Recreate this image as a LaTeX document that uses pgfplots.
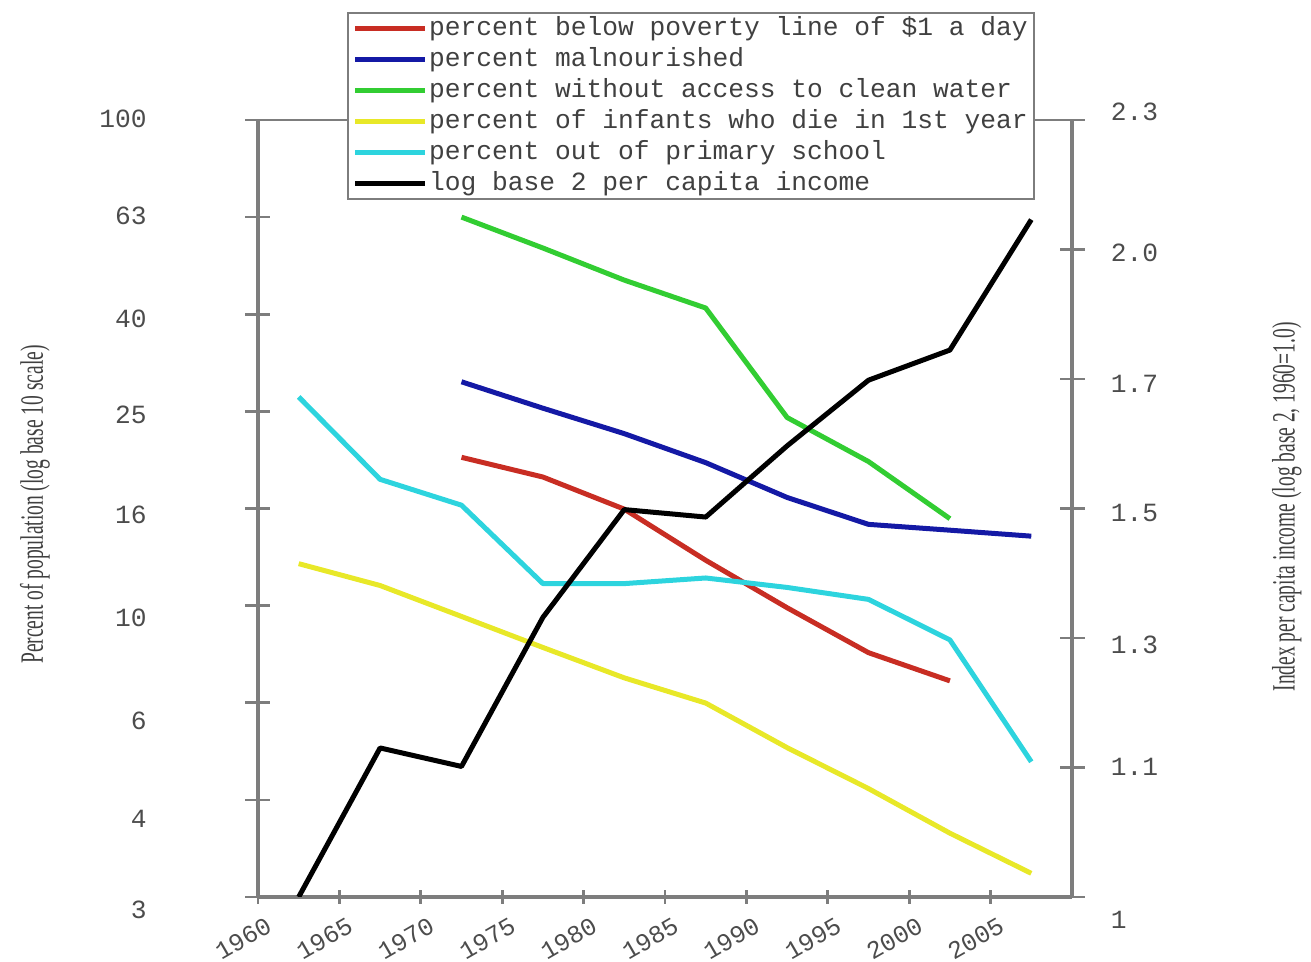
\documentclass[border=0pt]{standalone}
\usepackage{fontspec}
\setmainfont{Liberation Serif}
\newfontfamily\monofont{Liberation Mono}
\usepackage{graphicx}
\usepackage{pgfplots}
\pgfplotsset{compat=1.18}

\definecolor{cRed}{RGB}{200,45,35}
\definecolor{cBlue}{RGB}{20,25,165}
\definecolor{cGreen}{RGB}{50,205,50}
\definecolor{cYellow}{RGB}{232,232,40}
\definecolor{cCyan}{RGB}{45,212,222}
\definecolor{axgray}{RGB}{125,125,125}

% tick label lowered by #1 (the reference labels drift off their ticks)
\newcommand\lab[2]{\raisebox{\dimexpr-#1-3.15pt\relax}[0pt][0pt]{#2}}

\pgfplotsset{
  common/.style={
    scale only axis, width=325.6pt, height=310.8pt,
    xmin=1960, xmax=2010,
    axis line style={axgray, line width=1.6pt, -},
    tick style={axgray, line width=1.1pt},
    tick align=center,
    major tick length=10pt,
    minor ytick={},
    tick label style={font=\monofont\fontsize{10.5}{12}\selectfont, text=black!70},
    label style={font=\fontsize{13}{15}\selectfont, text=black!75},
  },
}

\begin{document}
\begin{tikzpicture}
\begin{axis}[common,
    axis y line*=left, axis x line*=bottom,
    ymode=log, ymin=2.5119, ymax=100,
    ytick={2.5119,3.9811,6.3096,10,15.849,25.119,39.811,63.096,100},
    yticklabels={\lab{5.6pt}{3},\lab{8pt}{4},\lab{7.6pt}{6},\lab{5.2pt}{10},
                 \lab{2.8pt}{16},\lab{1.6pt}{25},\lab{2pt}{40},\lab{0pt}{63},\lab{0pt}{100}},
    yticklabel style={anchor=east, xshift=-36pt},
    xtick=\empty,
    extra x ticks={1960,1965,1970,1975,1980,1985,1990,1995,2000,2005},
    extra x tick labels={1960,1965,1970,1975,1980,1985,1990,1995,2000,2005},
    extra tick style={major tick length=5.6pt},
    xticklabel style={rotate=30, anchor=east, font=\monofont\fontsize{10}{11}\selectfont,
                      xshift=3.5pt, yshift=-9pt},
    ylabel={\scalebox{0.6}[1]{Percent of population (log base 10 scale)}},
    ylabel style={at={(axis description cs:-0.274,0.505)}, anchor=center},
]
\coordinate (sw) at (rel axis cs:0,0);
\draw[axgray, line width=0.6pt] (rel axis cs:0,1) -- (rel axis cs:1,1);

% percent below poverty line of $1 a day
\addplot[cRed, line width=2pt, line join=round] coordinates {
  (1972.5,20.2) (1977.5,18.4) (1982.5,15.8) (1987.5,12.4)
  (1992.5,9.9) (1997.5,8.0) (2002.5,7.0)
};
% percent malnourished
\addplot[cBlue, line width=2pt, line join=round] coordinates {
  (1972.5,28.9) (1977.5,25.5) (1982.5,22.6) (1987.5,19.7)
  (1992.5,16.7) (1997.5,14.7) (2002.5,14.3) (2007.5,13.9)
};
% percent without access to clean water
\addplot[cGreen, line width=2pt, line join=round] coordinates {
  (1972.5,63.1) (1977.5,54.5) (1982.5,46.8) (1987.5,41.0)
  (1992.5,24.4) (1997.5,19.8) (2002.5,15.1)
};
% percent of infants who die in 1st year
\addplot[cYellow, line width=2pt, line join=round] coordinates {
  (1962.5,12.2) (1967.5,11.0) (1972.5,9.5) (1977.5,8.2) (1982.5,7.1)
  (1987.5,6.3) (1992.5,5.1) (1997.5,4.2) (2002.5,3.4) (2007.5,2.81)
};
% percent out of primary school
\addplot[cCyan, line width=2pt, line join=round] coordinates {
  (1962.5,26.9) (1967.5,18.2) (1972.5,16.1) (1977.5,11.1) (1982.5,11.1)
  (1987.5,11.4) (1992.5,10.9) (1997.5,10.3) (2002.5,8.5) (2007.5,4.77)
};
\end{axis}

\begin{axis}[common,
    axis y line*=right, axis x line=none,
    ymode=log, log basis y=2, ymin=1, ymax=2.2974,
    ytick={1,1.1487,1.3195,1.5157,1.7411,2,2.2974},
    yticklabels={\lab{9.6pt}{1},\lab{0pt}{1.1},\lab{3.2pt}{1.3},\lab{2pt}{1.5},
                 \lab{2.4pt}{1.7},\lab{1.6pt}{2.0},\lab{-2.8pt}{2.3}},
    yticklabel style={anchor=west, xshift=7pt},
    ylabel={\scalebox{0.6}[1]{Index per capita income (log base 2, 1960=1.0)}},
    ylabel style={at={(axis description cs:1.264,0.502)}, anchor=center, rotate=0},
    legend image code/.code={\draw[#1, line width=2pt] (0pt,0pt) -- (28pt,0pt);},
    legend cell align=left,
    legend style={at={(0.109,1.139)}, anchor=north west,
      draw=axgray, line width=0.9pt, fill=white,
      font=\monofont\fontsize{10.5}{12}\selectfont, text=black!75,
      inner xsep=2pt, inner ysep=0.5pt, row sep=0.9pt,
      nodes={inner sep=0.5pt, text height=8pt, text depth=2.5pt}},
]
\addlegendimage{cRed}
\addlegendentry{percent below poverty line of \$1 a day}
\addlegendimage{cBlue}
\addlegendentry{percent malnourished}
\addlegendimage{cGreen}
\addlegendentry{percent without access to clean water}
\addlegendimage{cYellow}
\addlegendentry{percent of infants who die in 1st year}
\addlegendimage{cCyan}
\addlegendentry{percent out of primary school}
% log base 2 per capita income, index 1960 = 1.0
\addplot[black, line width=2pt, line join=round] coordinates {
  (1962.5,1.0) (1967.5,1.173) (1972.5,1.150) (1977.5,1.349) (1982.5,1.514)
  (1987.5,1.502) (1992.5,1.621) (1997.5,1.739) (2002.5,1.796) (2007.5,2.065)
};
\addlegendentry{log base 2 per capita income}
\end{axis}

\pgfresetboundingbox
\path[use as bounding box] ([shift={(-103.2pt,-26pt)}]sw) rectangle ([shift={(421.2pt,358.8pt)}]sw);
\end{tikzpicture}
\end{document}
